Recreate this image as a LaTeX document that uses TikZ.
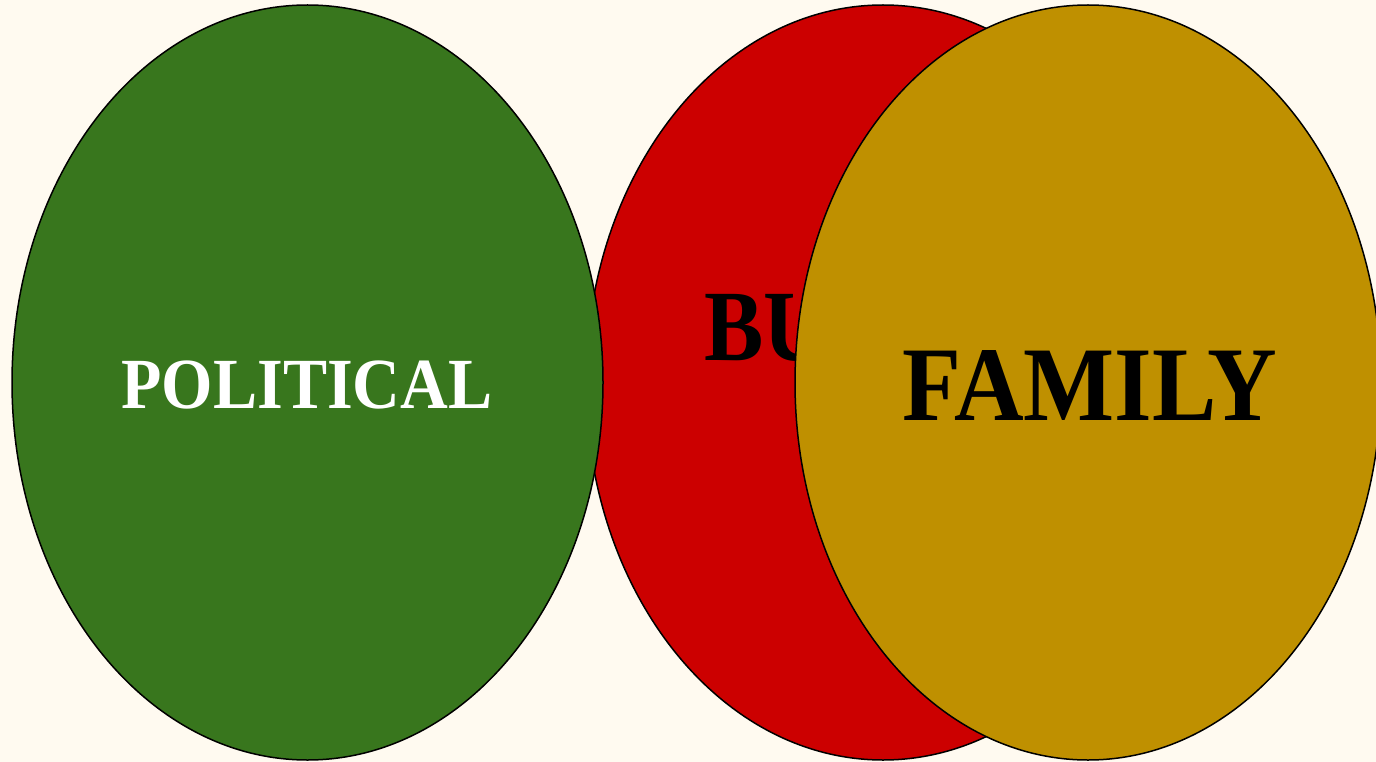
\documentclass[tikz,border=0pt]{standalone}
\usepackage{fontspec}
\setmainfont{Liberation Serif}
\definecolor{bg}{RGB}{255,250,240}
\definecolor{cgreen}{HTML}{38761D}
\definecolor{cred}{HTML}{CC0000}
\definecolor{cgold}{HTML}{BF9000}
\usetikzlibrary{shapes.geometric}
\tikzset{
  blob/.style={ellipse, draw=black, line width=1.5pt, inner sep=0pt, outer sep=0pt, minimum height=755pt},
  lbl/.style={inner sep=0pt, font=\bfseries},
}
\begin{document}
\begin{tikzpicture}[x=1pt,y=-1pt]
\useasboundingbox (0,0) rectangle (1376,762);
\fill[bg] (0,0) rectangle (1376,762);
\node[blob, fill=cred, minimum width=594pt] (bus) at (883,382.5) {};
\node[lbl, text=black, anchor=base west] (bustxt) at (704,360) {\fontsize{101}{110}\selectfont\scalebox{0.88}[1]{BU}};
\node[blob, fill=cgreen, minimum width=591pt] (pol) at (307.5,382.5) {};
\node[lbl, text=white, anchor=base] (poltxt) at (307,408) {\fontsize{72}{80}\selectfont\scalebox{0.918}[1]{POLITICAL}};
\node[blob, fill=cgold, minimum width=586pt] (fam) at (1088,382.5) {};
\node[lbl, text=black, anchor=base] (famtxt) at (1090,420) {\fontsize{106}{115}\selectfont\scalebox{0.91}[1]{FAMILY}};
\end{tikzpicture}
\end{document}
